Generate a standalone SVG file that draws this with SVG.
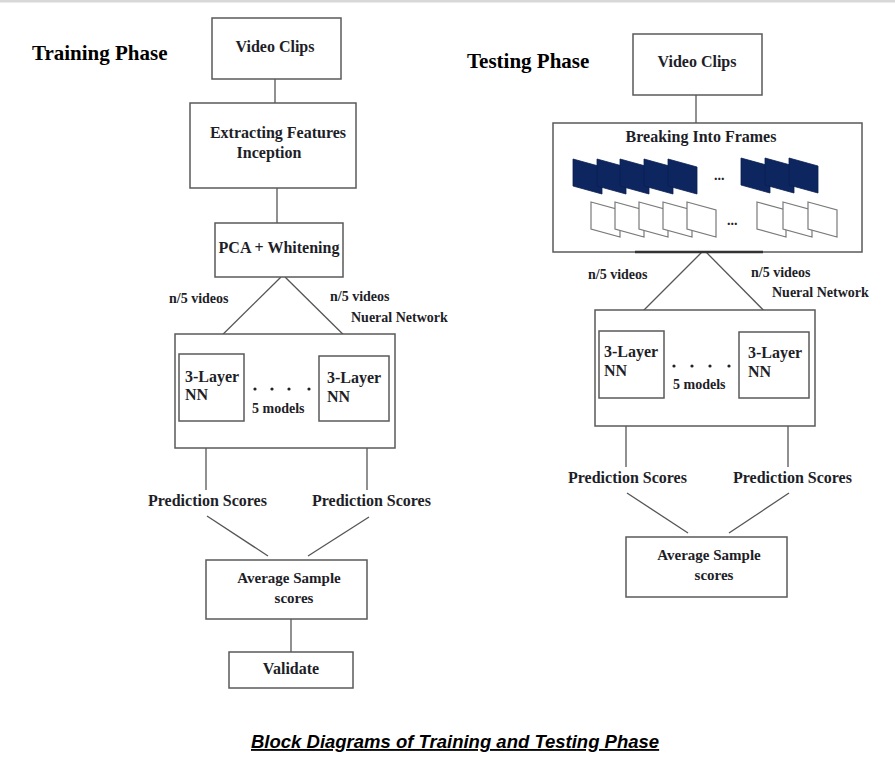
<svg xmlns="http://www.w3.org/2000/svg" width="895" height="761" viewBox="0 0 895 761">
<defs>
<style>
.bx{fill:#fff;stroke:#5a5a5a;stroke-width:1.5}
.ln{stroke:#555;stroke-width:1.3;fill:none}
.t{font-family:"Liberation Serif","Times New Roman",serif;font-weight:bold;fill:#1e1e28;font-size:16px}
.s{font-size:14px}
.h{font-size:21px;fill:#000}
.m{text-anchor:middle}
.dk{fill:#0d2660;stroke:#0a1f50;stroke-width:0.8}
.wf{fill:#fff;stroke:#7a7a7a;stroke-width:1.2}
.cap{font-family:"Liberation Sans",Arial,sans-serif;font-weight:bold;font-style:italic;font-size:18.5px;fill:#000;text-decoration:underline}
</style>
<polygon id="df" points="0,0 29,8 29,35 0,27"/>
<polygon id="wfr" points="0,0 29,8 29,35 0,27"/>
</defs>
<rect x="0" y="0" width="895" height="761" fill="#fff"/>
<rect x="0" y="0" width="895" height="2.5" fill="#d8d8d8"/>

<g id="connectors">
<line class="ln" x1="275" y1="79" x2="275" y2="103"/>
<line class="ln" x1="277" y1="188" x2="277" y2="223"/>
<line class="ln" x1="281" y1="277" x2="203" y2="354"/>
<line class="ln" x1="285" y1="277" x2="365" y2="356"/>
<line class="ln" x1="206" y1="448" x2="206" y2="490"/>
<line class="ln" x1="367" y1="448" x2="367" y2="490"/>
<line class="ln" x1="207" y1="516" x2="268" y2="556"/>
<line class="ln" x1="369" y1="517" x2="308" y2="556"/>
<line class="ln" x1="291" y1="619" x2="291" y2="652"/>

<line class="ln" x1="696" y1="95" x2="696" y2="123"/>
<line class="ln" x1="702" y1="252" x2="623" y2="331"/>
<line class="ln" x1="706" y1="252" x2="785" y2="332"/>
<line class="ln" x1="626" y1="426" x2="626" y2="467"/>
<line class="ln" x1="788" y1="426" x2="788" y2="467"/>
<line class="ln" x1="627" y1="493" x2="688" y2="533"/>
<line class="ln" x1="789" y1="493" x2="729" y2="533"/>
</g>

<g id="training-title"><text class="t h" x="32" y="60">Training Phase</text></g>

<g id="train-video"><rect class="bx" x="212" y="18" width="129" height="61"/><text class="t m" x="275" y="52">Video Clips</text></g>
<g id="train-extract"><rect class="bx" x="190" y="103" width="166" height="85"/><text class="t m" x="278" y="138">Extracting Features</text><text class="t m" x="269" y="158">Inception</text></g>
<g id="train-pca"><rect class="bx" x="215" y="223" width="128" height="54"/><text class="t m" x="279" y="253">PCA + Whitening</text></g>
<g id="train-lbl-left"><text class="t s" x="169" y="303">n/5 videos</text></g>
<g id="train-lbl-right"><text class="t s" x="330" y="301">n/5 videos</text><text class="t s" x="351" y="322">Nueral Network</text></g>
<g id="train-nn">
<rect class="bx" x="175" y="334" width="220" height="114"/>
<rect class="bx" x="179" y="354" width="65" height="67"/>
<text class="t" x="185" y="382">3-Layer</text><text class="t" x="185" y="400">NN</text>
<rect class="bx" x="319" y="356" width="70" height="65"/>
<text class="t" x="327" y="383">3-Layer</text><text class="t" x="327" y="402">NN</text>
<circle cx="255" cy="389" r="1.6" fill="#222"/><circle cx="272" cy="389" r="1.6" fill="#222"/><circle cx="289" cy="389" r="1.6" fill="#222"/><circle cx="309" cy="389" r="1.6" fill="#222"/>
<text class="t s" x="252" y="413">5 models</text>
</g>
<g id="train-pred-left"><text class="t" x="148" y="506">Prediction Scores</text></g>
<g id="train-pred-right"><text class="t" x="312" y="506">Prediction Scores</text></g>
<g id="train-avg"><rect class="bx" x="206" y="560" width="161" height="59"/><text class="t m" x="289" y="583" style="font-size:15px">Average Sample</text><text class="t m" x="294" y="603" style="font-size:15px">scores</text></g>
<g id="train-validate"><rect class="bx" x="229" y="652" width="124" height="36"/><text class="t m" x="291" y="674">Validate</text></g>

<g id="testing-title"><text class="t h" x="467" y="68">Testing Phase</text></g>
<g id="test-video"><rect class="bx" x="633" y="34" width="129" height="61"/><text class="t m" x="697" y="67">Video Clips</text></g>
<g id="test-frames">
<rect class="bx" x="553" y="123" width="309" height="129"/>
<text class="t m" x="701" y="142">Breaking Into Frames</text>
<use href="#df" class="dk" x="573" y="159"/>
<use href="#df" class="dk" x="597" y="159"/>
<use href="#df" class="dk" x="620" y="159"/>
<use href="#df" class="dk" x="644" y="159"/>
<use href="#df" class="dk" x="668" y="159"/>
<text class="t s" x="714" y="180">...</text>
<use href="#df" class="dk" x="741" y="158"/>
<use href="#df" class="dk" x="765" y="158"/>
<use href="#df" class="dk" x="789" y="158"/>
<use href="#wfr" class="wf" x="591" y="202"/>
<use href="#wfr" class="wf" x="615" y="202"/>
<use href="#wfr" class="wf" x="639" y="202"/>
<use href="#wfr" class="wf" x="663" y="202"/>
<use href="#wfr" class="wf" x="687" y="202"/>
<text class="t s" x="727" y="225">...</text>
<use href="#wfr" class="wf" x="757" y="202"/>
<use href="#wfr" class="wf" x="783" y="202"/>
<use href="#wfr" class="wf" x="808" y="202"/>
<line x1="635" y1="252" x2="763" y2="252" stroke="#333" stroke-width="2.5"/>
</g>
<g id="test-lbl-left"><text class="t s" x="588" y="279">n/5 videos</text></g>
<g id="test-lbl-right"><text class="t s" x="751" y="277">n/5 videos</text><text class="t s" x="772" y="297">Nueral Network</text></g>
<g id="test-nn">
<rect class="bx" x="595" y="310" width="220" height="116"/>
<rect class="bx" x="599" y="331" width="65" height="67"/>
<text class="t" x="604" y="357">3-Layer</text><text class="t" x="604" y="376">NN</text>
<rect class="bx" x="739" y="332" width="70" height="66"/>
<text class="t" x="748" y="358">3-Layer</text><text class="t" x="748" y="377">NN</text>
<circle cx="674" cy="366" r="1.6" fill="#222"/><circle cx="692" cy="366" r="1.6" fill="#222"/><circle cx="710" cy="366" r="1.6" fill="#222"/><circle cx="729" cy="366" r="1.6" fill="#222"/>
<text class="t s" x="673" y="389">5 models</text>
</g>
<g id="test-pred-left"><text class="t" x="568" y="483">Prediction Scores</text></g>
<g id="test-pred-right"><text class="t" x="733" y="483">Prediction Scores</text></g>
<g id="test-avg"><rect class="bx" x="626" y="537" width="161" height="60"/><text class="t m" x="709" y="560" style="font-size:15px">Average Sample</text><text class="t m" x="714" y="580" style="font-size:15px">scores</text></g>

<g id="caption"><text class="cap" x="251" y="748">Block Diagrams of Training and Testing Phase</text></g>
</svg>
